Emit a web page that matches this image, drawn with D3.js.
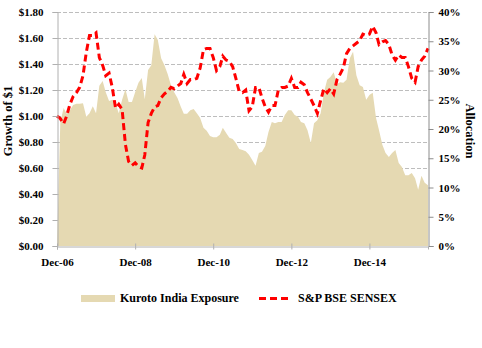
<!DOCTYPE html>
<html>
<head>
<meta charset="utf-8">
<script src="https://cdn.jsdelivr.net/npm/d3@7"></script>
<style>
  html, body { margin: 0; padding: 0; background: #fff; }
  svg text { font-family: "Liberation Serif", "DejaVu Serif", serif; font-weight: bold; fill: #000; }
</style>
</head>
<body>
<svg id="chart" width="482" height="348"></svg>
<script>
// Monthly observations, starting December 2006
const startMonth = new Date(2006, 11, 1);

// Kuroto India Exposure, allocation in percent (right axis)
const exposure = [
  0, 21.2, 23.6, 22.6, 23.2, 24.1, 24.3, 24.3, 24.4, 22.1, 22.7, 23.9,
  22.7, 27.4, 28.2, 26.3, 24.8, 25.0, 24.3, 22.7, 25.0, 26.8, 24.6, 24.6,
  26.3, 27.9, 28.7, 25.1, 30.1, 30.9, 36.2, 35.2, 32.1, 30.9, 29.4, 27.5,
  26.3, 25.3, 23.8, 22.6, 22.6, 23.2, 23.4, 22.7, 21.9, 20.2, 19.7, 18.8,
  18.6, 18.6, 19.0, 20.2, 19.3, 18.5, 18.3, 17.6, 16.6, 16.4, 16.2, 15.6,
  14.7, 13.7, 15.9, 16.1, 17.1, 19.5, 21.2, 21.0, 21.2, 21.2, 22.4, 23.2,
  23.2, 22.4, 22.1, 21.2, 21.0, 19.8, 17.6, 21.0, 21.5, 22.7, 26.2, 28.4,
  28.9, 29.7, 27.7, 28.0, 27.9, 28.4, 32.1, 33.2, 29.2, 27.5, 27.2, 25.0,
  25.8, 26.2, 21.9, 19.8, 17.3, 15.9, 15.2, 15.9, 16.4, 14.2, 13.5, 12.1,
  12.1, 12.5, 11.6, 9.6, 12.0, 10.8, 10.4
];

// S&P BSE SENSEX, growth of $1 (left axis)
const sensex = [
  1.00, 0.98, 0.94, 1.00, 1.09, 1.15, 1.18, 1.22, 1.31, 1.49, 1.62, 1.62,
  1.64, 1.45, 1.39, 1.31, 1.33, 1.22, 1.06, 1.09, 1.05, 0.78, 0.65, 0.62,
  0.64, 0.61, 0.60, 0.70, 0.95, 1.02, 1.07, 1.08, 1.14, 1.17, 1.19, 1.22,
  1.21, 1.23, 1.25, 1.32, 1.25, 1.28, 1.28, 1.29, 1.37, 1.51, 1.52, 1.52,
  1.45, 1.35, 1.38, 1.46, 1.43, 1.42, 1.38, 1.29, 1.19, 1.18, 1.20, 1.04,
  1.07, 1.22, 1.22, 1.14, 1.07, 1.03, 1.08, 1.08, 1.20, 1.22, 1.22, 1.23,
  1.29, 1.22, 1.22, 1.26, 1.24, 1.18, 1.13, 1.08, 1.02, 1.12, 1.21, 1.18,
  1.21, 1.17, 1.28, 1.32, 1.37, 1.48, 1.52, 1.54, 1.56, 1.58, 1.63, 1.62,
  1.63, 1.69, 1.64, 1.55, 1.57, 1.58, 1.55, 1.47, 1.43, 1.47, 1.45, 1.45,
  1.38, 1.29, 1.26, 1.38, 1.43, 1.46, 1.52
];

const leftTicks = [0, 0.2, 0.4, 0.6, 0.8, 1.0, 1.2, 1.4, 1.6, 1.8];
const rightTicks = [0, 5, 10, 15, 20, 25, 30, 35, 40];
const xTickDates = [new Date(2006, 11, 1), new Date(2008, 11, 1), new Date(2010, 11, 1),
                    new Date(2012, 11, 1), new Date(2014, 11, 1)];

const seriesNames = ["Kuroto India Exposure", "S&P BSE SENSEX"];
const colors = { area: "#E5D9B2", line: "#FF0000" };

const dates = sensex.map((_, i) => d3.timeMonth.offset(startMonth, i));

const svg = d3.select("#chart");
const margin = { left: 57, right: 54, top: 12, bottom: 102 };
const W = 482, H = 348;
const x0 = margin.left, x1 = W - margin.right;
const y0 = H - margin.bottom, y1 = margin.top;

const x = d3.scaleTime().domain([dates[0], dates[dates.length - 1]]).range([x0, x1]);
const yL = d3.scaleLinear().domain([0, 1.8]).range([y0, y1]);
const yR = d3.scaleLinear().domain([0, 40]).range([y0, y1]);

// dashed horizontal gridlines at left-axis ticks
svg.append("g")
  .selectAll("line")
  .data(leftTicks.filter(d => d > 0))
  .join("line")
  .attr("x1", x0).attr("x2", x1)
  .attr("y1", d => yL(d) + 0.5).attr("y2", d => yL(d) + 0.5)
  .attr("stroke", "#BDBDBD")
  .attr("stroke-width", 1)
  .attr("stroke-dasharray", "4,2");

// exposure area on the allocation axis
svg.append("path")
  .datum(exposure)
  .attr("fill", colors.area)
  .attr("d", d3.area()
    .x((d, i) => x(dates[i]))
    .y0(yR(0))
    .y1(d => yR(d)));

// SENSEX growth line
svg.append("path")
  .datum(sensex)
  .attr("fill", "none")
  .attr("stroke", colors.line)
  .attr("stroke-width", 3)
  .attr("stroke-dasharray", "7,4")
  .attr("d", d3.line()
    .x((d, i) => x(dates[i]))
    .y(d => yL(d)));

// axes
const leftAxis = svg.append("g")
  .attr("transform", `translate(${x0 + 0.5},0)`)
  .call(d3.axisLeft(yL).tickValues(leftTicks).tickSize(5).tickPadding(9)
    .tickFormat(d => "$" + d3.format(".2f")(d)));
leftAxis.select(".domain").attr("stroke", "#B0B0B0");
leftAxis.selectAll(".tick line").attr("stroke", "#B0B0B0");

const rightAxis = svg.append("g")
  .attr("transform", `translate(${x1 + 0.5},0)`)
  .call(d3.axisRight(yR).tickValues(rightTicks).tickSize(5).tickPadding(5)
    .tickFormat(d => d + "%"));
rightAxis.select(".domain").attr("stroke", "#8C8C8C");
rightAxis.selectAll(".tick line").attr("stroke", "#8C8C8C");

const bottomAxis = svg.append("g")
  .attr("transform", `translate(0,${y0 + 0.5})`)
  .call(d3.axisBottom(x).tickValues(xTickDates).tickSize(3).tickPadding(9)
    .tickFormat(d3.timeFormat("%b-%y")));
bottomAxis.select(".domain").attr("stroke", "#B0B0B0");
bottomAxis.selectAll(".tick line").attr("stroke", "#B0B0B0").attr("y1", -3);

svg.selectAll(".tick text")
  .style("font-family", "'Liberation Serif', serif")
  .style("font-weight", "bold")
  .style("font-size", "11px")
  .attr("fill", "#000");

// axis titles
svg.append("text")
  .attr("transform", `translate(12,${(y0 + y1) / 2 - 8}) rotate(-90)`)
  .attr("text-anchor", "middle")
  .style("font-size", "12.5px")
  .text("Growth of $1");

svg.append("text")
  .attr("transform", `translate(466,${(y0 + y1) / 2 + 2}) rotate(90)`)
  .attr("text-anchor", "middle")
  .style("font-size", "12.5px")
  .text("Allocation");

// legend
const legend = svg.append("g");
legend.append("rect")
  .attr("x", 81).attr("y", 295).attr("width", 34).attr("height", 7)
  .attr("fill", colors.area);
legend.append("text")
  .attr("x", 120).attr("y", 302)
  .style("font-size", "12px")
  .text(seriesNames[0]);
legend.append("line")
  .attr("x1", 259).attr("x2", 292).attr("y1", 298.5).attr("y2", 298.5)
  .attr("stroke", colors.line)
  .attr("stroke-width", 3)
  .attr("stroke-dasharray", "7,4");
legend.append("text")
  .attr("x", 298).attr("y", 302)
  .style("font-size", "12px")
  .text(seriesNames[1]);
</script>
</body>
</html>
